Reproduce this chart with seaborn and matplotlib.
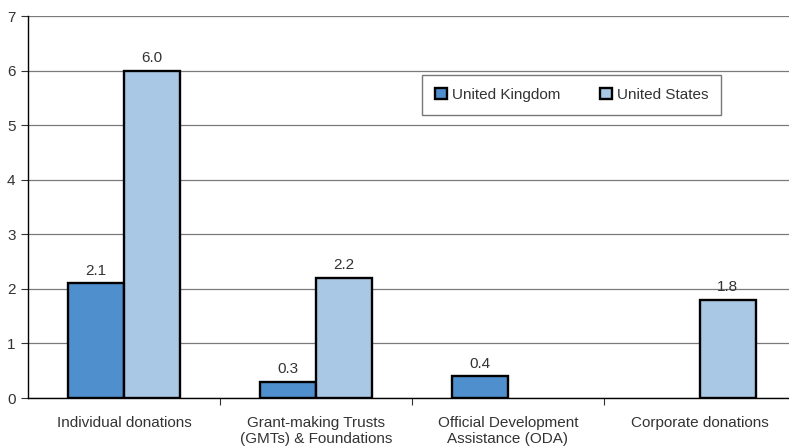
import numpy as np
import pandas as pd
import matplotlib
matplotlib.use("Agg")
import matplotlib.pyplot as plt
import seaborn as sns

categories = ["Individual donations",
              "Grant-making Trusts\n(GMTs) & Foundations",
              "Official Development\nAssistance (ODA)",
              "Corporate donations"]
uk_values = [2.1, 0.3, 0.4, np.nan]
us_values = [6.0, 2.2, np.nan, 1.8]
series = ["United Kingdom", "United States"]
colors = ["#4f8fcd", "#a9c8e5"]
y_ticks = [0, 1, 2, 3, 4, 5, 6, 7]

rows = []
for cat, uk, us in zip(categories, uk_values, us_values):
    rows.append({"category": cat, "country": series[0], "value": uk})
    rows.append({"category": cat, "country": series[1], "value": us})
df = pd.DataFrame(rows).dropna()

sns.set_style("white")
plt.rcParams["font.family"] = ["Liberation Sans", "DejaVu Sans"]

fig = plt.figure(figsize=(7.89, 4.47), dpi=100)
ax = fig.add_axes([28 / 789, 49 / 447, 768 / 789, 382 / 447])

sns.barplot(data=df, x="category", y="value", hue="country",
            order=categories, hue_order=series, palette=colors,
            width=0.58, edgecolor="black", linewidth=1.7,
            saturation=1, errorbar=None, ax=ax)

ax.set_xlim(-0.5, 3.5)
ax.set_ylim(0, 7)
ax.set_yticks(y_ticks)
ax.set_yticklabels([str(t) for t in y_ticks], fontsize=11, color="#333333")
ax.yaxis.grid(True, color="#7a7a7a", linewidth=0.9)
ax.set_axisbelow(True)

ax.set_xticks(range(len(categories)))
ax.set_xticklabels(categories, fontsize=11, color="#333333", linespacing=1.15)
ax.tick_params(axis="x", which="major", length=0, pad=13)
ax.set_xticks([0.5, 1.5, 2.5], minor=True)
ax.tick_params(axis="x", which="minor", length=5, width=0.8, color="#333333",
               direction="out", bottom=True)
ax.tick_params(axis="y", length=5, width=0.8, color="#333333",
               direction="out", left=True, pad=4)

ax.set_xlabel("")
ax.set_ylabel("")
for side in ["top", "right"]:
    ax.spines[side].set_visible(False)
for side in ["left", "bottom"]:
    ax.spines[side].set_color("black")
    ax.spines[side].set_linewidth(1.0)

for container in ax.containers:
    labels = [f"{v:.1f}" if not np.isnan(v) else "" for v in container.datavalues]
    ax.bar_label(container, labels=labels, padding=4, fontsize=11, color="#333333")

leg = ax.legend(loc="center", bbox_to_anchor=(0.708, 0.794), ncol=2,
                frameon=True, fancybox=False, edgecolor="#555555",
                fontsize=11, handlelength=0.8, handleheight=0.8,
                handletextpad=0.3, columnspacing=2.6,
                borderpad=0.85)
leg.get_frame().set_linewidth(1.0)
for txt in leg.get_texts():
    txt.set_color("#333333")

fig.savefig("out.png", dpi=100)
